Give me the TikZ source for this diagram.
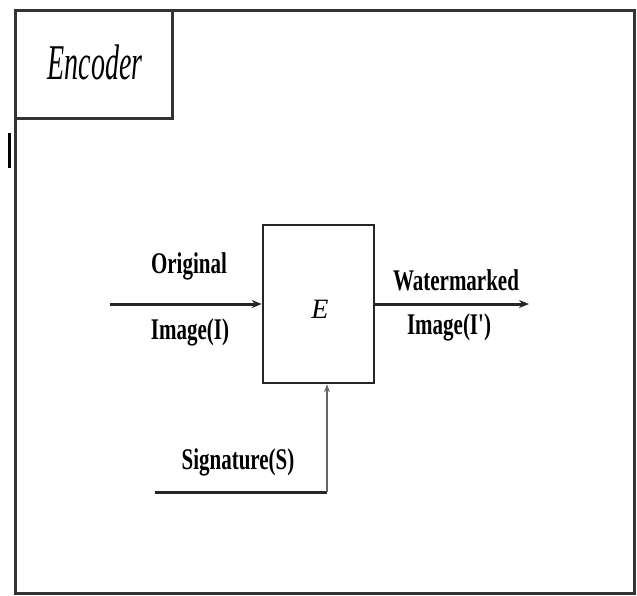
\documentclass[tikz,border=0pt]{standalone}
\usepackage{fontspec}
\setmainfont{Liberation Serif}
\usetikzlibrary{arrows.meta}
\usetikzlibrary{positioning}

\tikzset{
  frameline/.style={line width=3pt, black!80},
  lbl/.style={font=\bfseries\fontsize{30}{30}\selectfont, xscale=0.7, inner sep=0pt},
  flow/.style={line width=3pt, black!85, -{Stealth[length=10pt, width=8pt]}},
}

\begin{document}
\begin{tikzpicture}[x=1pt, y=-1pt]
			\useasboundingbox (0,0) rectangle (637,595);
			% outer frame and title box
			\draw[frameline] (15,10) rectangle (634,593);
			\node[draw, frameline, minimum width=157pt, minimum height=108pt, inner sep=0pt] (title) at (93.5,64) {};
			\node[font=\itshape\fontsize{50}{50}\selectfont, xscale=0.56, inner sep=0pt] (titletext) at (95,62) {Encoder};
			\fill[black] (8,133) rectangle (11,168);
			
			% encoder block
			\node[draw, line width=2.6pt, black!85, minimum width=111pt, minimum height=158pt, inner sep=0pt] (enc) at (318.5,304) {};
			\node[font=\itshape\fontsize{28}{28}\selectfont, inner sep=0pt] (etext) at (320,309) {E};
			
			\coordinate (in) at (110,304);
			\coordinate (out) at (529,304);
			\coordinate (sig) at (155,492);
			\coordinate (sigup) at (327,492);
			
			\draw[flow] (in) -- (enc.west);
			\draw[flow] (enc.east) -- (out);
			\draw[line width=3pt, black!85] (sig) -- (sigup);
			\draw[line width=1.2pt, black!60, -{Stealth[length=8pt, width=6pt]}] (sigup) -- (sigup |- enc.south);
			
			\node[lbl] (orig) at (189,266) {Original};
			\node[lbl] (origimg) at (190,332) {Image(I)};
			\node[lbl] (wm) at (456,280) {Watermarked};
			\node[lbl] (wmimg) at (449,327) {Image(I\textquotesingle)};
			\node[lbl] (sigtext) at (238,462) {Signature(S)};
		\end{tikzpicture}
\end{document}
